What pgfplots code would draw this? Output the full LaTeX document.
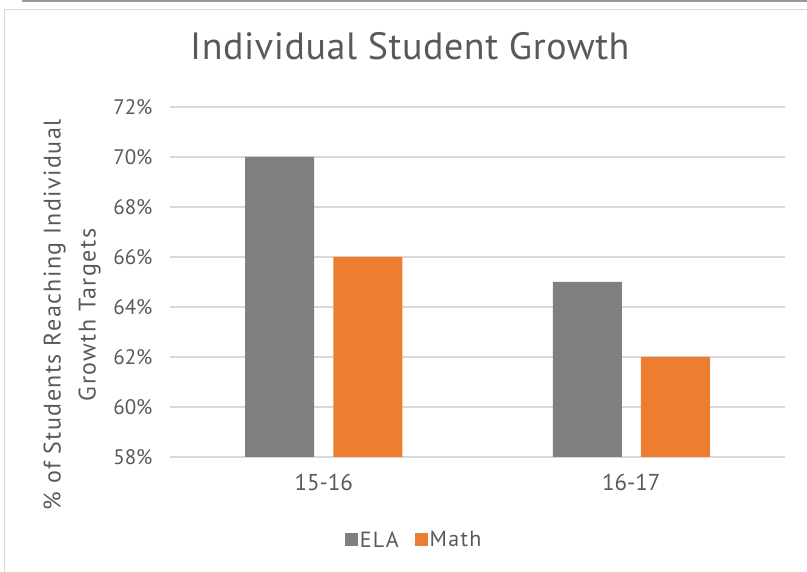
\documentclass[border=0pt]{standalone}
\usepackage{pgfplots}
\pgfplotsset{compat=1.18}
\usepackage{fontspec}
\setmainfont{PT Sans}
\newfontfamily\spaced[LetterSpace=6]{PT Sans}
\newfontfamily\titlefont[LetterSpace=1.5]{PT Sans}
\definecolor{ela}{HTML}{7F7F7F}
\definecolor{mth}{HTML}{ED7D31}
\definecolor{txt}{HTML}{595959}
\definecolor{grd}{HTML}{D9D9D9}
\begin{document}
\begin{tikzpicture}[x=1pt,y=1pt]
\useasboundingbox (0,0) rectangle (807,572);
\draw[black!40, line width=1.5pt] (22,571) -- (807,571);
\draw[black!15, line width=1pt] (4,-5) rectangle (812,562);
\begin{axis}[
  at={(170pt,115pt)}, anchor=south west,
  scale only axis, width=615pt, height=350pt,
  xmin=0, xmax=2, ymin=58, ymax=72,
  ybar=19pt, bar width=69pt,
  xtick={0.5,1.5}, xticklabels={15-16,16-17},
  ytick={58,60,...,72},
  yticklabel={\pgfmathprintnumber{\tick}\%},
  /pgf/number format/assume math mode=true,
  major tick length=0pt,
  axis line style={draw=none},
  ymajorgrids, grid style={grd, line width=1.2pt},
  yticklabel style={font=\fontsize{21}{24}\selectfont, text=txt, xshift=-14pt},
  xticklabel style={font=\fontsize{23}{26}\selectfont, text=txt, yshift=-14pt},
  ylabel={\% of Students Reaching Individual\\Growth Targets},
  ylabel style={font=\spaced\fontsize{24}{35}\selectfont, text=txt, align=center,
    at={(axis description cs:-0.159,0.406)}, anchor=center},
  title={Individual Student Growth},
  title style={font=\titlefont\fontsize{38}{42}\selectfont, text=txt,
    at={(axis description cs:0.39,1.157)}, anchor=center},
  legend columns=2,
  legend style={draw=none, at={(axis description cs:0.397,-0.237)}, anchor=center,
    font=\spaced\fontsize{22}{24}\selectfont, text=txt,
    /tikz/every even column/.append style={column sep=14pt}},
  legend image code/.code={\fill[#1] (0pt,-6.5pt) rectangle (13pt,6.5pt);},
]
\addplot[draw=none, fill=ela] coordinates {(0.5,70) (1.5,65)};
\addplot[draw=none, fill=mth] coordinates {(0.5,66) (1.5,62)};
\legend{ELA,Math}
\end{axis}
\end{tikzpicture}
\end{document}
